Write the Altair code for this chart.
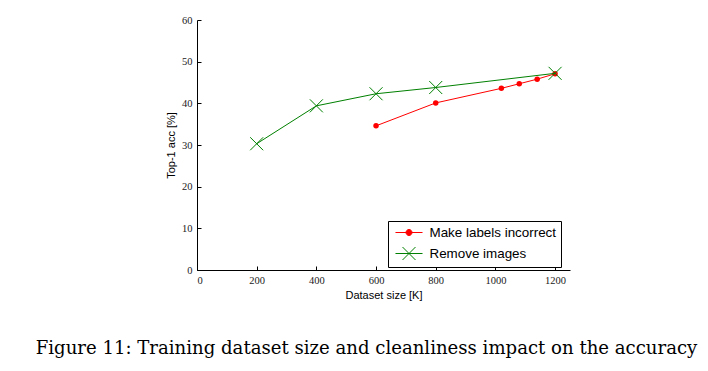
import altair as alt
import pandas as pd

series_names = ["Make labels incorrect", "Remove images"]
red_size = [600, 800, 1020, 1080, 1140, 1200]
red_acc = [34.6, 40.1, 43.6, 44.7, 45.8, 47.1]
green_size = [200, 400, 600, 800, 1200]
green_acc = [30.3, 39.4, 42.3, 43.8, 47.2]
x_ticks = [0, 200, 400, 600, 800, 1000, 1200]
y_ticks = [0, 10, 20, 30, 40, 50, 60]
caption = "Figure 11: Training dataset size and cleanliness impact on the accuracy"

df = pd.DataFrame({
    "series": [series_names[0]] * len(red_size) + [series_names[1]] * len(green_size),
    "size": red_size + green_size,
    "acc": red_acc + green_acc,
})
red_df = df[df.series == series_names[0]]
green_df = df[df.series == series_names[1]]

xs = alt.Scale(domain=[0, 1250], nice=False, zero=False)
ys = alt.Scale(domain=[0, 60], nice=False, zero=False)

main_x = alt.X("size:Q", scale=xs, axis=alt.Axis(
    values=x_ticks, format="d", title="Dataset size [K]", ticks=False, grid=False, orient="bottom",
    labelPadding=5, titlePadding=4))
main_y = alt.Y("acc:Q", scale=ys, axis=alt.Axis(
    values=y_ticks, format="d", title="Top-1 acc [%]", ticks=False, grid=False, orient="left",
    labelPadding=5, titlePadding=5))
nx = alt.X("size:Q", axis=None)
ny = alt.Y("acc:Q", axis=None)

red_line = alt.Chart(red_df).mark_line(color="#ff0000", strokeWidth=1).encode(x=main_x, y=main_y)
red_pts = alt.Chart(red_df).mark_point(color="#ff0000", filled=True, size=30, opacity=1,
                                        shape="circle").encode(x=nx, y=ny)
green_line = alt.Chart(green_df).mark_line(color="#008000", strokeWidth=1).encode(x=nx, y=ny)
x_path = "M-1,-1L1,1M-1,1L1,-1"
green_pts = alt.Chart(green_df).mark_point(color="#008000", filled=False, size=169, opacity=1,
                                          strokeWidth=1, shape=x_path).encode(x=nx, y=ny)

legend_red = "M-2.08,0L2.08,0M-0.46,0A0.46,0.46 0 1,1 0.46,0A0.46,0.46 0 1,1 -0.46,0Z"
legend_green = "M-2.08,0L2.08,0M-1,-1L1,1M-1,1L1,-1"
leg = alt.Legend(title=None, orient="none", legendX=191, legendY=201,
                 strokeColor="black", fillColor="white", padding=4.5, cornerRadius=0,
                 symbolSize=169, symbolOffset=9.5, labelOffset=13.5, rowPadding=5,
                 labelFont="Liberation Sans", labelFontSize=13.4, labelColor="black",
                 symbolStrokeWidth=1, symbolOpacity=1)
legend_layer = alt.Chart(df).mark_point(opacity=0, strokeWidth=1).encode(
    x=alt.X("size:Q", axis=alt.Axis(orient="top", offset=-250, labels=False, domain=False,
                                    title=None, grid=False, values=x_ticks, tickSize=4,
                                    tickColor="black")),
    y=alt.Y("acc:Q", axis=alt.Axis(orient="right", offset=-373, labels=False, domain=False,
                                   title=None, grid=False, values=y_ticks, tickSize=4,
                                   tickColor="black")),
    shape=alt.Shape("series:N", scale=alt.Scale(domain=series_names, range=[legend_red, legend_green]), legend=leg),
    stroke=alt.Stroke("series:N", scale=alt.Scale(domain=series_names, range=["#ff0000", "#008000"]), legend=leg),
    fill=alt.Fill("series:N", scale=alt.Scale(domain=series_names, range=["#ff0000", "transparent"]), legend=leg),
)

chart = alt.layer(red_line, red_pts, green_line, green_pts, legend_layer).resolve_axis(
    x="independent", y="independent"
).properties(
    width=373, height=250,
    autosize=alt.AutoSizeParams(type="none"),
    padding={"left": 189, "top": 12, "right": 130, "bottom": 93},
    title=alt.TitleParams(caption, orient="bottom", anchor="middle", dx=-17, offset=39,
                          font="DejaVu Serif", fontSize=18.1, fontWeight="normal", color="black"),
).configure_view(stroke=None).configure_axis(
    domainColor="black", labelFont="Liberation Serif", labelFontSize=10.5, labelColor="#1a1a1a",
    titleFont="Liberation Sans", titleFontSize=11, titleFontWeight="normal", titleColor="black",
)

chart.save("out.html", embed_options={"renderer": "svg", "actions": False})
